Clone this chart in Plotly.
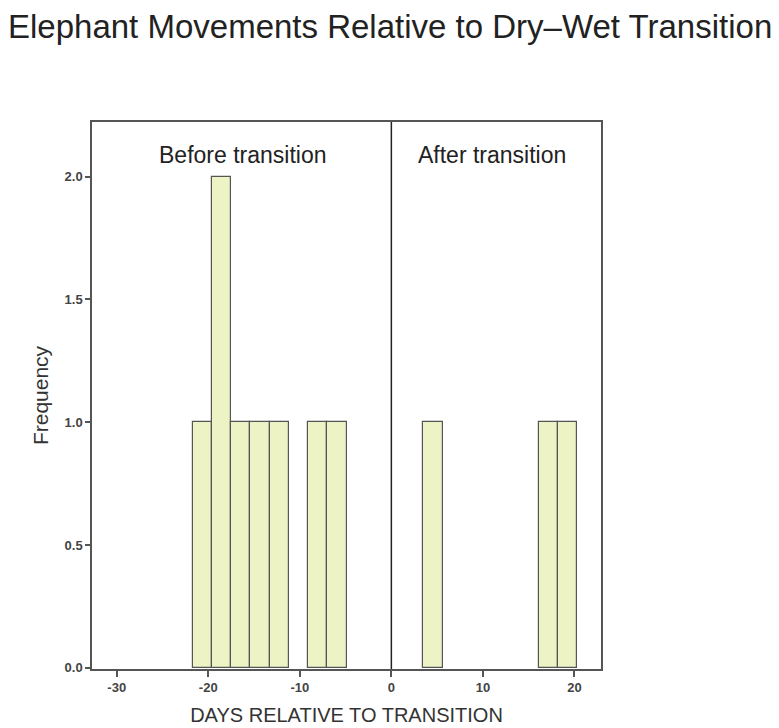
import plotly.graph_objects as go

# Histogramme : centres des classes (jours) et effectifs
bin_centers = [-20.65, -18.55, -16.45, -14.35, -12.25, -8.05, -5.95, 4.55, 17.15, 19.25]
counts = [1, 2, 1, 1, 1, 1, 1, 1, 1, 1]
bin_width = 2.1

x_ticks = [-30, -20, -10, 0, 10, 20]
y_ticks = [0.0, 0.5, 1.0, 1.5, 2.0]

font_main = 'Liberation Sans, Arial'

fig = go.Figure()

fig.add_trace(go.Bar(
    x=bin_centers, y=counts, width=bin_width,
    marker=dict(color='#eef3c6', line=dict(color='#555555', width=1.2)),
    showlegend=False
))

# Ligne de transition à x = 0
fig.add_shape(type='line', x0=0, x1=0, y0=0, y1=1, yref='paper',
              line=dict(color='#222222', width=1.5))

fig.add_annotation(x=-16.3, y=2.086, text='Before transition', showarrow=False,
                   font=dict(size=23, color='#222222', family=font_main))
fig.add_annotation(x=11.0, y=2.086, text='After transition', showarrow=False,
                   font=dict(size=23, color='#222222', family=font_main))

fig.update_xaxes(
    range=[-32.7, 22.9], tickvals=x_ticks, ticktext=['<b>%d</b>' % v for v in x_ticks],
    ticks='outside', ticklen=6, tickcolor='#555555', tickwidth=1.5,
    showgrid=False, zeroline=False, mirror=True, showline=True,
    linecolor='#555555', linewidth=1.5,
    tickfont=dict(size=13, color='#444444', family=font_main),
    title=dict(text='DAYS RELATIVE TO TRANSITION',
               font=dict(size=20, color='#333333', family=font_main),
               standoff=14)
)
fig.update_yaxes(
    range=[-0.005, 2.222], tickvals=y_ticks, ticktext=['<b>%.1f</b>' % v for v in y_ticks],
    ticks='outside', ticklen=5, tickcolor='#555555', tickwidth=1.5,
    showgrid=False, zeroline=False, mirror=True, showline=True,
    linecolor='#555555', linewidth=1.5,
    tickfont=dict(size=13, color='#444444', family=font_main),
    title=dict(text='Frequency',
               font=dict(size=21, color='#333333', family=font_main),
               standoff=10)
)

fig.update_layout(
    width=779, height=728,
    title=dict(text='Elephant Movements Relative to Dry\u2013Wet Transition',
               x=0.0, xanchor='left', y=0.975, yanchor='middle',
               font=dict(size=33, color='#222222', family=font_main)),
    margin=dict(l=84, r=186, t=114, b=67),
    plot_bgcolor='white', paper_bgcolor='white',
    bargap=0
)

fig.write_html("out.html")
